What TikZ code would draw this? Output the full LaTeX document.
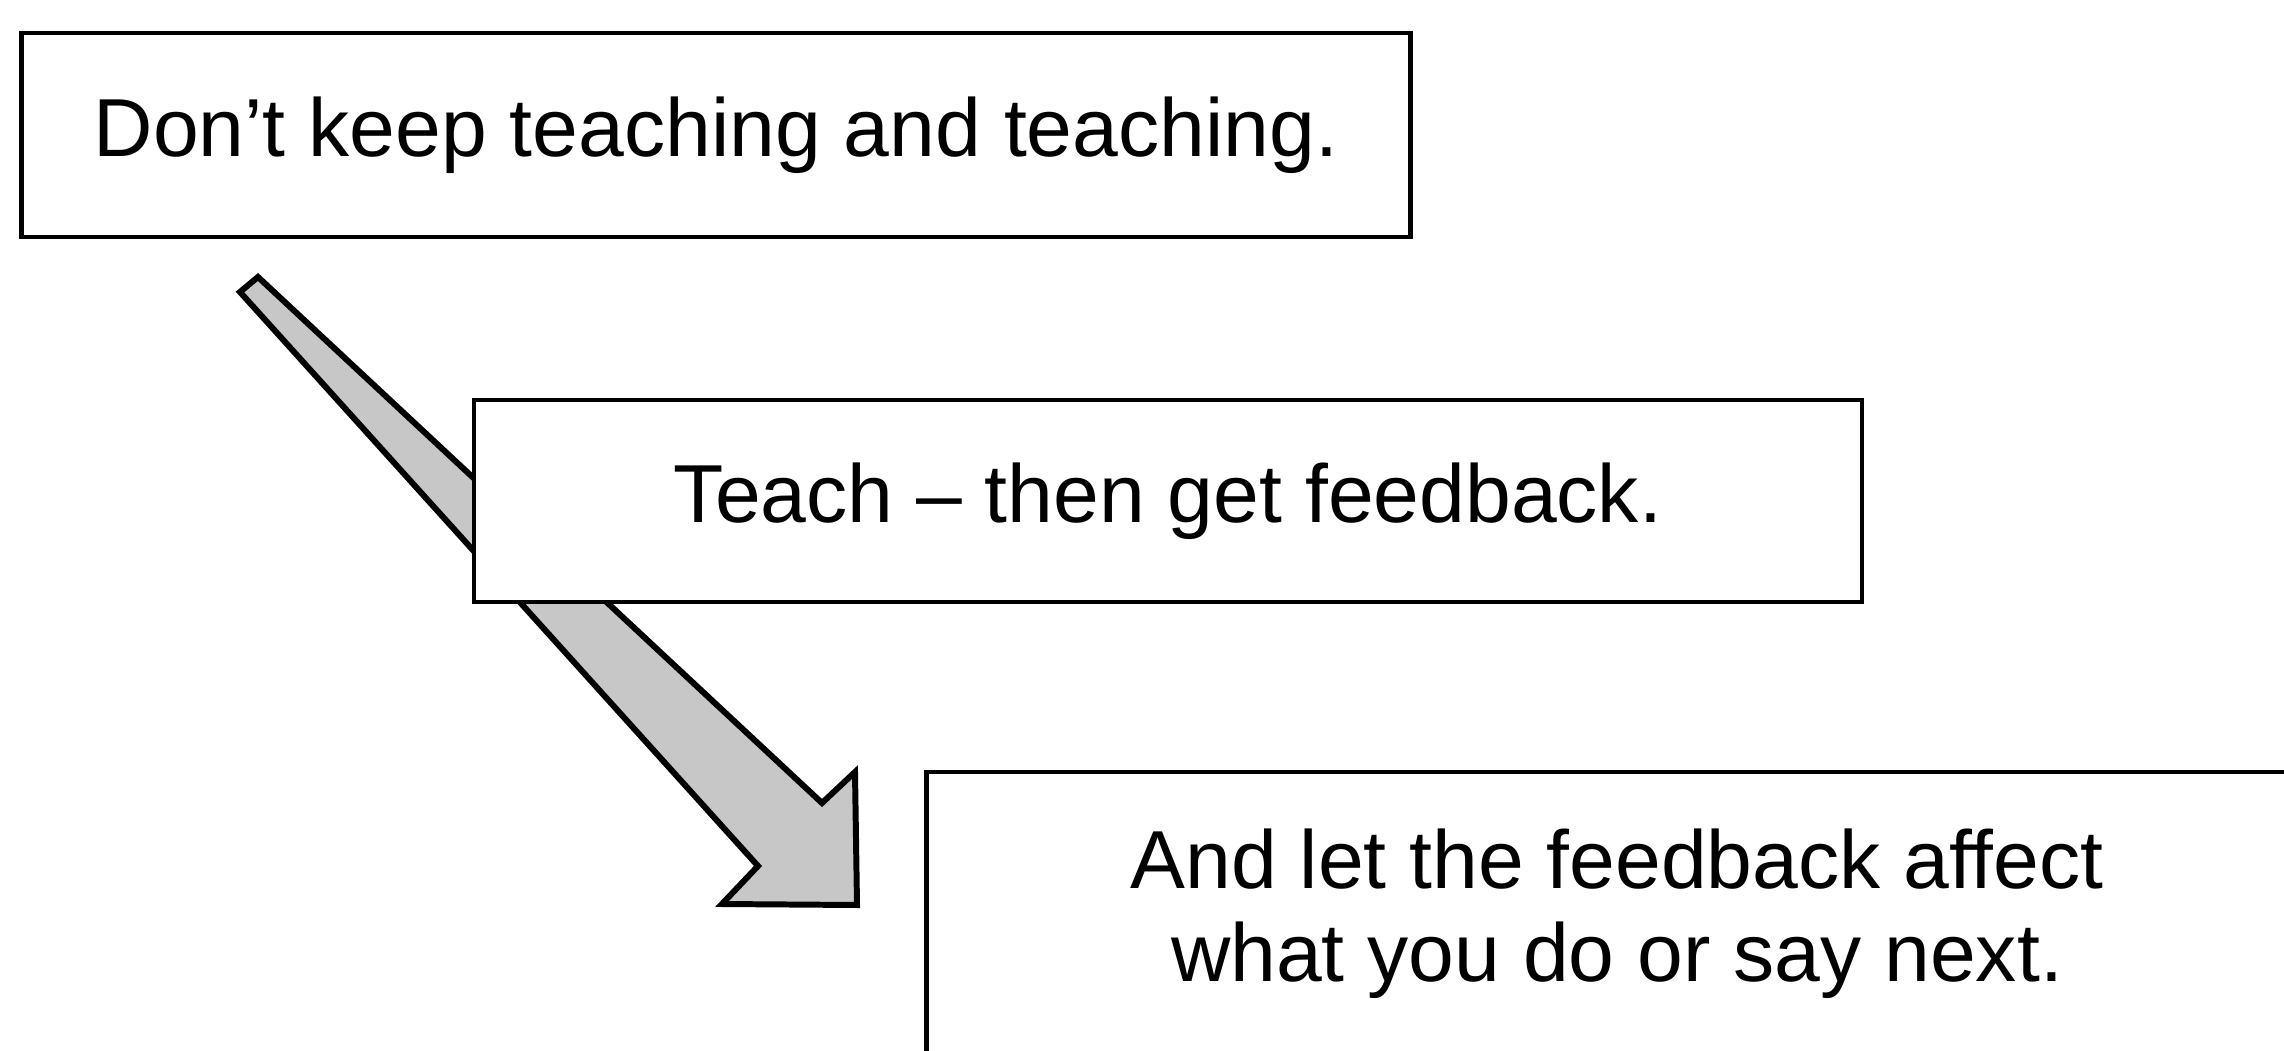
\documentclass[tikz,border=0pt]{standalone}
\usepackage{fontspec}
\setmainfont{Liberation Sans}
\usepackage{tikz}

\begin{document}
\begin{tikzpicture}[x=0.01cm, y=0.01cm,
    talkbox/.style={draw, fill=white, line width=1.3pt, align=center,
      font=\fontsize{23.4}{26.4}\selectfont}]
    \useasboundingbox (0, 0) rectangle (2284, 1050);
    \clip (0, 0) rectangle (2284, 1050);

    % broad arrow, running down behind the middle box
    \draw[line width=1.7pt, line join=miter, fill=black!22]
      (258, 773) -- (822, 247) -- (855, 278) -- (857, 145)
      -- (722, 146) -- (758, 184) -- (240, 758) -- cycle;

    \node (dontkeep) at (716, 915)
      [talkbox, minimum width=13.88cm, minimum height=2.04cm]
      {Don’t keep teaching and teaching.};

    \node (teach) at (1168, 549)
      [talkbox, minimum width=13.87cm, minimum height=2.02cm]
      {Teach – then get feedback.};

    \node (affect) at (1617, 136)
      [talkbox, minimum width=13.80cm, minimum height=2.84cm]
      {And let the feedback affect \\ what you do or say next.};
\end{tikzpicture}
\end{document}
